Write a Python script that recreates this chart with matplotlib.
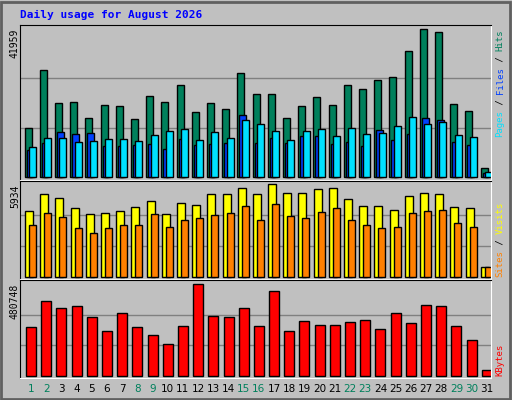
import numpy as np
import matplotlib
matplotlib.use("Agg")
import matplotlib.pyplot as plt
from matplotlib.patches import Rectangle

# dados
days = list(range(1, 32))
hits = [13765, 30283, 20885, 21169, 16613, 20315, 20030, 16328, 22878, 21169, 26011, 18322, 20885, 19176, 29428, 23448,
        23448, 16613, 20030, 22593, 20315, 26011, 24872, 27435, 28289, 35694, 41959, 41105, 20600, 18606, 2373]
files = [7499, 9493, 12626, 12056, 12341, 8639, 8639, 8923, 9208, 7784, 10632, 8923, 9208, 9493, 17467, 9493,
         10917, 9493, 11487, 11487, 9208, 9778, 8639, 13195, 10347, 12056, 16613, 16043, 9778, 8923, 1139]
pages = [8354, 10917, 10917, 9778, 10063, 10632, 10632, 10063, 11771, 12910, 13480, 10347, 12626, 10917, 16043, 14904,
         12910, 10347, 12910, 13480, 11487, 13765, 12056, 12341, 14334, 16897, 14904, 15474, 11771, 11202, 1234]
visits = [4199, 5291, 5034, 4391, 4006, 4070, 4199, 4456, 4841, 4006, 4713, 4584, 5291, 5291, 5677, 5291,
          5934, 5356, 5356, 5613, 5677, 4970, 4520, 4520, 4263, 5163, 5356, 5291, 4456, 4391, 600]
sites = [3299, 4070, 3813, 3106, 2785, 3106, 3299, 3299, 4006, 3170, 3620, 3749, 3942, 4070, 4520, 3620,
         4649, 3877, 3749, 4134, 4391, 3620, 3299, 3106, 3170, 4070, 4199, 4263, 3428, 3170, 600]
kbytes = [254417, 391276, 354429, 364957, 307055, 233362, 328110, 254417, 212307, 164932, 259681, 480748, 312319,
          307055, 354429, 259681, 443902, 233362, 285999, 264945, 264945, 280736, 291264, 243889, 328110, 275472,
          370221, 364957, 259681, 185988, 31583]
weekend = [1, 2, 8, 9, 15, 16, 22, 23, 29, 30]

W, H = 512, 400
fig = plt.figure(figsize=(W / 100, H / 100), dpi=100, facecolor="#C0C0C0")
fig.patches.append(Rectangle((1 / W, 1 / H), 1 - 3 / W, 1 - 3 / H, transform=fig.transFigure,
                             fill=False, edgecolor="#606060", linewidth=2))

L, R = 20, 491
unit = (R - L) / 31.0  # pixels por dia
x0 = np.arange(31)


def painel(top, bottom, base, vtop, vmax):
    ax = fig.add_axes([L / W, 1 - bottom / H, (R - L) / W, (bottom - top) / H])
    ax.set_facecolor("#C0C0C0")
    scale = vmax / (base - vtop)
    ax.set_ylim(-(bottom - base) * scale, vmax + (vtop - top) * scale)
    ax.set_xlim(0, 31)
    for f in (1 / 3, 2 / 3):
        ax.axhline(vmax * f, color="#808080", linewidth=1, zorder=0)
    ax.set_xticks([])
    ax.set_yticks([])
    ax.spines["left"].set_color("black")
    ax.spines["top"].set_color("black")
    ax.spines["right"].set_color("white")
    ax.spines["bottom"].set_color("white")
    return ax


kw = dict(align="edge", edgecolor="black", linewidth=1)

ax1 = painel(25, 180, 176.7, 29.3, 41959)
ax1.bar(x0 + 4.7 / unit, hits, 7 / unit, color="#00805C", **kw)
ax1.bar(x0 + 6.7 / unit, files, 7 / unit, color="#0040FF", **kw)
ax1.bar(x0 + 9.1 / unit, pages, 7 / unit, color="#00E0FF", **kw)

ax2 = painel(181, 279, 276.7, 184.3, 5934)
ax2.bar(x0 + 5 / unit, visits, 8 / unit, color="#FFFF00", **kw)
ax2.bar(x0 + 9 / unit, sites, 7 / unit, color="#FF8000", **kw)

ax3 = painel(280, 378, 375.7, 284.3, 480748)
ax3.bar(x0 + 6 / unit, kbytes, 10 / unit, color="#FF0000", **kw)

# textos
mono = "DejaVu Sans Mono"
fig.text(20 / W, 1 - 15 / H, "Daily usage for August 2026", family=mono, weight="bold",
         fontsize=8, color="#0000FF", va="center")
for lab, ytop in [("41959", 29), ("5934", 184), ("480748", 284)]:
    fig.text(15 / W, 1 - ytop / H, lab, rotation=90, family=mono, fontsize=7, va="top", ha="center")


def rotulo(pieces, ybottom):
    cw = 5.4
    pos = 0
    for txt, col in pieces:
        fig.text(500 / W, 1 - (ybottom - pos * cw) / H, txt, rotation=90, family=mono, fontsize=6.5,
                 color=col, va="bottom", ha="center")
        pos += len(txt)


rotulo([("Pages", "#00E0FF"), (" / ", "#000000"), ("Files", "#0040FF"), (" / ", "#000000"), ("Hits", "#00805C")], 137)
rotulo([("Sites", "#FF8000"), (" / ", "#000000"), ("Visits", "#FFFF00")], 277)
rotulo([("KBytes", "#FF0000")], 376)

for d in days:
    xc = L + (d - 1) * unit + 11
    fig.text(xc / W, 1 - 389 / H, str(d), fontsize=7.5, ha="center", va="center",
             color="#00805C" if d in weekend else "black")

fig.savefig("out.png", dpi=100, facecolor=fig.get_facecolor())
